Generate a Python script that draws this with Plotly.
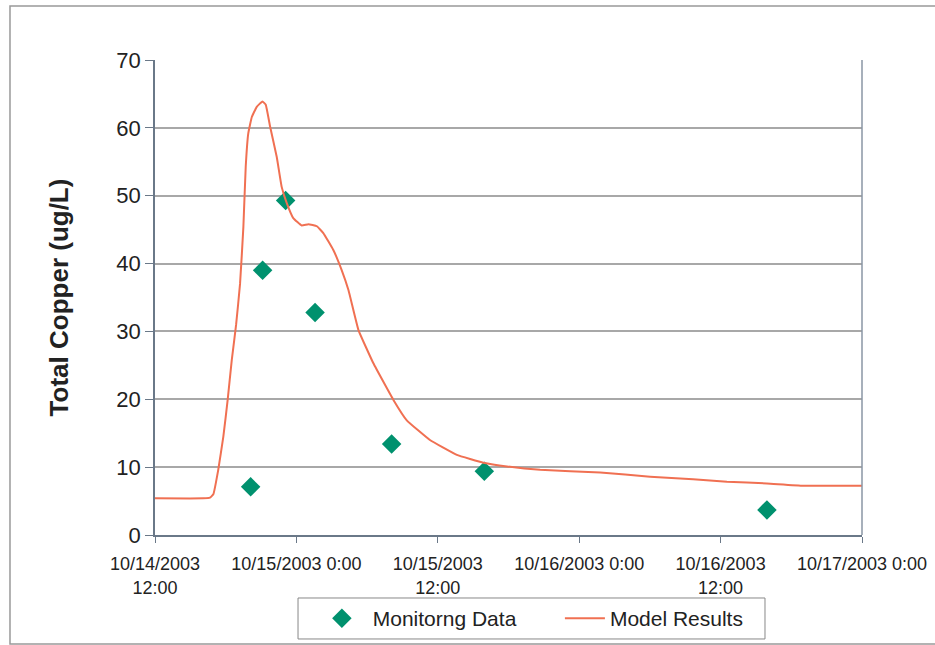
import plotly.graph_objects as go

# Monitoring data
mon_time = ["2003-10-14 20:07", "2003-10-14 21:08", "2003-10-14 23:05", "2003-10-15 01:35",
            "2003-10-15 08:05", "2003-10-15 15:57", "2003-10-16 15:56"]
mon_cu = [7.1, 39.0, 49.3, 32.8, 13.4, 9.4, 3.7]

# Model results
model_time = ["2003-10-14 12:00", "2003-10-14 16:06", "2003-10-14 16:40", "2003-10-14 16:57",
              "2003-10-14 17:22", "2003-10-14 17:48", "2003-10-14 18:10", "2003-10-14 18:31",
              "2003-10-14 18:53", "2003-10-14 19:13", "2003-10-14 19:30", "2003-10-14 19:42",
              "2003-10-14 19:55", "2003-10-14 20:13", "2003-10-14 20:38", "2003-10-14 21:07",
              "2003-10-14 21:24", "2003-10-14 21:46", "2003-10-14 22:20", "2003-10-14 22:45",
              "2003-10-14 23:11", "2003-10-14 23:44", "2003-10-15 00:27", "2003-10-15 01:01",
              "2003-10-15 01:44", "2003-10-15 02:17", "2003-10-15 03:08", "2003-10-15 03:51",
              "2003-10-15 04:25", "2003-10-15 05:16", "2003-10-15 06:32", "2003-10-15 08:14",
              "2003-10-15 09:22", "2003-10-15 11:20", "2003-10-15 13:37", "2003-10-15 15:52",
              "2003-10-15 17:52", "2003-10-15 20:41", "2003-10-16 01:47", "2003-10-16 06:01",
              "2003-10-16 09:40", "2003-10-16 12:32", "2003-10-16 15:56", "2003-10-16 19:01",
              "2003-10-17 00:00"]
model_cu = [5.4, 5.4, 5.5, 6.0,
            9.6, 14.5, 19.9, 25.8,
            31.0, 37.0, 45.4, 54.3,
            59.2, 61.6, 63.1, 63.9,
            63.4, 60.2, 55.7, 51.3,
            48.9, 46.7, 45.6, 45.8,
            45.5, 44.5, 42.0, 39.0,
            36.1, 30.2, 25.3, 19.9,
            16.9, 14.0, 11.8, 10.65,
            10.1, 9.6, 9.2, 8.6,
            8.2, 7.86, 7.6, 7.27,
            7.27]

tick_vals = ["2003-10-14 12:00", "2003-10-15 00:00", "2003-10-15 12:00",
             "2003-10-16 00:00", "2003-10-16 12:00", "2003-10-17 00:00"]
tick_text = ["10/14/2003<br>12:00", "10/15/2003 0:00", "10/15/2003<br>12:00",
             "10/16/2003 0:00", "10/16/2003<br>12:00", "10/17/2003 0:00"]

FONT = "Liberation Sans, Arial, sans-serif"

fig = go.Figure()
fig.add_trace(go.Scatter(x=mon_time, y=mon_cu, mode="markers", name="\u00a0Monitorng Data",
                         marker=dict(symbol="diamond", size=15, color="#00916E")))
fig.add_trace(go.Scatter(x=model_time, y=model_cu, mode="lines", name="Model Results",
                         line=dict(color="#F07052", width=2, shape="spline", smoothing=0.3)))

fig.update_layout(
    width=935, height=645,
    margin=dict(l=155, r=73, t=60, b=110, autoexpand=False),
    plot_bgcolor="white", paper_bgcolor="white",
    font=dict(family=FONT, color="#222222"),
    showlegend=True,
    legend=dict(orientation="h", x=0.229, xanchor="left", y=-0.1326, yanchor="top",
                borderwidth=0, bgcolor="rgba(0,0,0,0)", font=dict(size=21, color="#222222"),
                entrywidth=188, itemwidth=40, traceorder="normal"),
    shapes=[
        dict(type="rect", xref="paper", yref="paper",
             x0=-0.2051, x1=1.25, y0=-0.2295, y1=1.1137,
             line=dict(color="#999999", width=1.5), fillcolor="rgba(0,0,0,0)", layer="below"),
        dict(type="rect", xref="paper", yref="paper",
             x0=0.2023, x1=0.8628, y0=-0.2189, y1=-0.1326,
             line=dict(color="#888888", width=1), fillcolor="rgba(0,0,0,0)", layer="below"),
        dict(type="line", xref="paper", yref="paper", x0=1, x1=1, y0=0, y1=1,
             line=dict(color="#8a96a4", width=1.5)),
    ],
)

fig.update_xaxes(type="date", range=["2003-10-14 12:00", "2003-10-17 00:00"],
                 tickvals=tick_vals, ticktext=tick_text, tickangle=0,
                 tickfont=dict(size=18, family=FONT, color="#222222"), ticklabelstandoff=6,
                 showgrid=False, showline=True, linecolor="#6a7888", linewidth=1.5,
                 mirror=False, ticks="outside", ticklen=6, tickcolor="#6a7888", zeroline=False)
fig.update_yaxes(range=[0, 70], dtick=10, tickfont=dict(size=22, family=FONT, color="#222222"),
                 title=dict(text="<b>Total Copper (ug/L)</b>", font=dict(size=26, family=FONT, color="#222222"),
                            standoff=40),
                 showgrid=True, gridcolor="#a8a8a8", gridwidth=1.5,
                 showline=True, linecolor="#6a7888", linewidth=1.5,
                 ticks="outside", ticklen=8, tickcolor="#6a7888", zeroline=False)

fig.write_html("out.html")
